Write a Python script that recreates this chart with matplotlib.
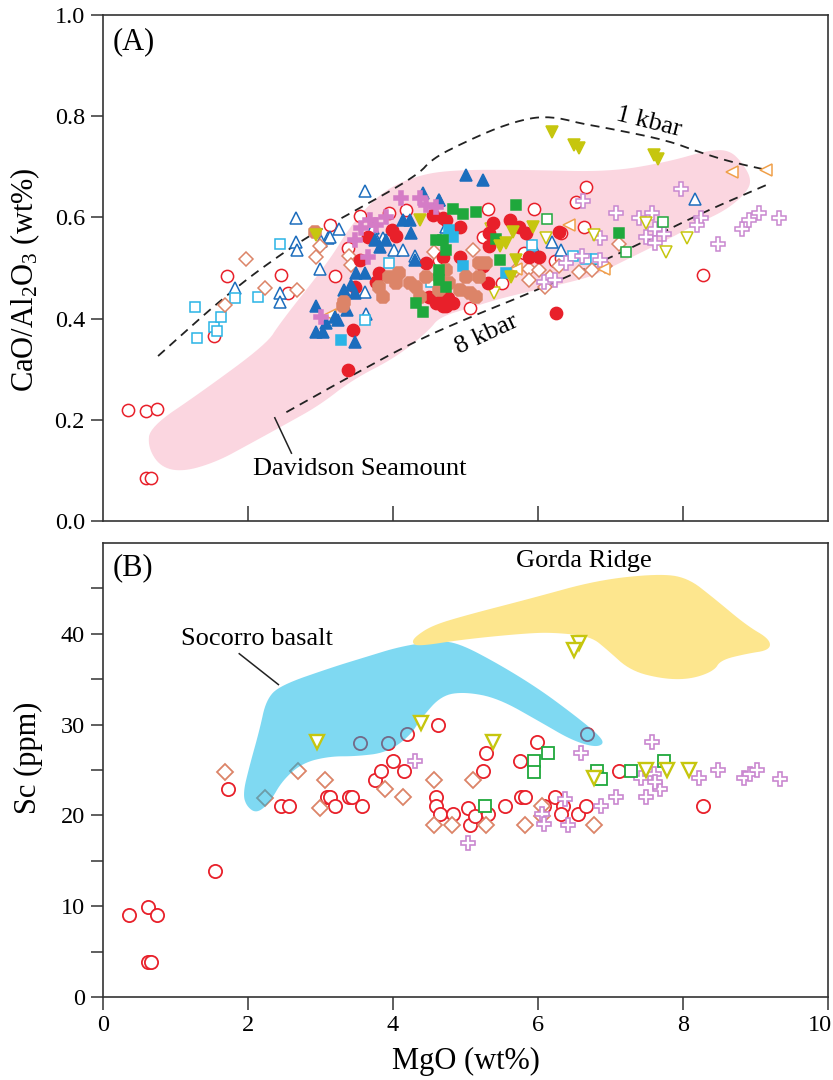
import matplotlib
matplotlib.use('Agg')
import matplotlib.pyplot as plt
import matplotlib.transforms as mtransforms
import numpy as np

plt.rcParams['font.family'] = ['Liberation Serif', 'DejaVu Serif']
plt.rcParams['mathtext.fontset'] = 'custom'
plt.rcParams['mathtext.rm'] = 'Liberation Serif'
plt.rcParams['mathtext.it'] = 'Liberation Serif:italic'

# ---------------- panel A data: MgO vs CaO/Al2O3 ----------------
a_red_open_x = [0.35, 0.60, 0.74, 0.60, 0.66, 1.53, 1.71, 2.46, 2.55, 3.13, 3.20, 3.38, 3.54, 3.95, 4.18,
                4.64, 5.31, 5.95, 5.24, 5.81, 6.32, 6.23, 6.66, 6.52, 6.64, 5.06, 5.51, 6.32, 8.27]
a_red_open_y = [0.220, 0.217, 0.222, 0.084, 0.084, 0.366, 0.485, 0.486, 0.450, 0.584, 0.485, 0.540, 0.603,
                0.608, 0.614, 0.516, 0.616, 0.616, 0.561, 0.529, 0.569, 0.513, 0.661, 0.631, 0.581, 0.420,
                0.470, 0.519, 0.486]

a_red_fill_x = [3.38, 3.45, 3.54, 3.47, 3.81, 3.99, 4.04, 3.65, 3.77, 4.46, 4.55, 4.69, 4.50, 4.59, 4.69,
                4.76, 4.73, 4.92, 5.38, 5.61, 5.74, 5.83, 5.33, 5.33, 4.69, 4.83, 4.73, 5.24, 5.31, 5.88,
                6.02, 6.29, 6.25, 4.69, 4.92]
a_red_fill_y = [0.298, 0.377, 0.516, 0.463, 0.490, 0.575, 0.564, 0.562, 0.473, 0.509, 0.605, 0.598, 0.443,
                0.430, 0.424, 0.440, 0.595, 0.582, 0.589, 0.595, 0.582, 0.569, 0.569, 0.543, 0.443, 0.430,
                0.424, 0.503, 0.470, 0.522, 0.522, 0.572, 0.412, 0.522, 0.522]

a_blue_fill_x = [2.94, 3.03, 3.08, 2.94, 3.20, 3.24, 3.36, 3.33, 3.42, 3.47, 3.49, 3.61, 3.47, 3.75, 3.82,
                 3.91, 4.14, 4.23, 4.41, 4.64, 4.25, 4.30, 5.01, 5.24, 4.64]
a_blue_fill_y = [0.374, 0.374, 0.391, 0.424, 0.404, 0.397, 0.417, 0.457, 0.466, 0.450, 0.490, 0.490, 0.354,
                 0.556, 0.542, 0.556, 0.595, 0.595, 0.648, 0.635, 0.569, 0.516, 0.684, 0.674, 0.634]

a_blue_open_x = [1.82, 2.44, 2.44, 2.66, 2.66, 2.67, 3.61, 2.99, 3.26, 3.10, 3.01, 3.72, 3.86, 3.13, 3.61,
                 3.63, 4.02, 4.14, 4.30, 3.75, 4.73, 6.20, 5.93, 6.32, 8.17]
a_blue_open_y = [0.460, 0.450, 0.433, 0.598, 0.552, 0.536, 0.652, 0.499, 0.577, 0.560, 0.553, 0.579, 0.560,
                 0.562, 0.453, 0.410, 0.536, 0.536, 0.523, 0.562, 0.582, 0.552, 0.543, 0.536, 0.636]

a_cyan_open_x = [1.27, 1.30, 1.53, 1.57, 1.63, 1.82, 2.14, 2.44, 3.95, 4.53, 5.92, 6.48, 6.66, 6.80, 3.61]
a_cyan_open_y = [0.422, 0.361, 0.384, 0.376, 0.404, 0.440, 0.442, 0.547, 0.509, 0.473, 0.546, 0.524, 0.517,
                 0.517, 0.397]
a_cyan_fill_x = [3.29, 4.83, 4.96, 5.56, 4.78]
a_cyan_fill_y = [0.358, 0.562, 0.503, 0.490, 0.575]

a_salmon_open_x = [1.97, 1.68, 2.23, 2.67, 2.99, 3.40, 2.94, 3.42, 4.57, 5.10, 5.70, 5.88, 6.02, 6.16, 6.29,
                   6.57, 6.75, 6.93, 5.88, 7.12, 6.10]
a_salmon_open_y = [0.517, 0.427, 0.460, 0.456, 0.543, 0.523, 0.522, 0.506, 0.532, 0.536, 0.496, 0.499, 0.496,
                   0.483, 0.503, 0.493, 0.496, 0.503, 0.476, 0.547, 0.462]
a_salmon_fill_x = [2.92, 3.33, 3.31, 3.86, 3.95, 4.09, 4.23, 4.32, 4.46, 4.64, 4.37, 3.81, 4.04, 4.64, 4.73,
                   4.78, 4.92, 5.06, 5.19, 5.19, 5.28, 5.01, 5.15]
a_salmon_fill_y = [0.572, 0.433, 0.424, 0.443, 0.483, 0.490, 0.470, 0.463, 0.483, 0.483, 0.443, 0.463, 0.470,
                   0.456, 0.496, 0.470, 0.456, 0.450, 0.509, 0.483, 0.509, 0.483, 0.443]

a_pink_fill_x = [3.47, 3.56, 3.68, 3.77, 4.11, 4.46, 3.65, 3.01, 4.37, 4.60, 3.90]
a_pink_fill_y = [0.556, 0.579, 0.595, 0.585, 0.638, 0.625, 0.522, 0.404, 0.639, 0.621, 0.600]
a_lilac_open_x = [6.62, 7.97, 7.08, 7.40, 7.58, 7.49, 7.62, 7.74, 7.62, 8.25, 8.20, 8.48, 8.82, 8.91, 9.05,
                  9.33, 6.85, 6.39, 6.09, 6.23, 6.86, 6.61]
a_lilac_open_y = [0.632, 0.657, 0.608, 0.598, 0.608, 0.562, 0.578, 0.568, 0.549, 0.598, 0.585, 0.547, 0.578,
                  0.595, 0.608, 0.598, 0.559, 0.509, 0.473, 0.476, 0.515, 0.523]

a_green_fill_x = [4.59, 4.32, 4.41, 4.73, 4.64, 4.83, 4.96, 5.15, 5.70, 5.47, 5.42, 4.69, 4.64, 4.73, 7.12]
a_green_fill_y = [0.556, 0.430, 0.414, 0.463, 0.476, 0.617, 0.607, 0.611, 0.624, 0.515, 0.558, 0.556, 0.496,
                  0.536, 0.569]
a_green_open_x = [6.12, 7.72, 7.22]
a_green_open_y = [0.597, 0.590, 0.532]

a_yellow_fill_x = [6.20, 6.50, 6.57, 7.60, 7.65, 5.47, 5.56, 5.65, 5.93, 5.70, 5.63, 4.37, 2.94]
a_yellow_fill_y = [0.768, 0.744, 0.737, 0.723, 0.716, 0.543, 0.549, 0.572, 0.582, 0.516, 0.483, 0.595, 0.566]
a_yellow_open_x = [5.35, 6.11, 6.78, 5.40, 7.49, 8.06, 7.76]
a_yellow_open_y = [0.578, 0.559, 0.565, 0.450, 0.588, 0.559, 0.532]

a_orange_open_x = [8.68, 9.14, 6.91, 6.43, 5.70, 3.13]
a_orange_open_y = [0.690, 0.693, 0.499, 0.585, 0.499, 0.407]

# Davidson Seamount field outline
davidson_x = [0.65, 1.34, 2.26, 2.44, 3.13, 3.40, 3.82, 4.27, 4.78, 5.88, 6.98, 7.77, 8.36, 8.64, 8.82, 8.95,
              8.87, 8.60, 8.22, 7.77, 7.30, 6.85, 6.57, 5.56, 5.10, 4.64, 4.50, 4.05, 3.44, 2.99, 2.53, 2.02,
              1.57, 1.10, 0.79, 0.62]
davidson_y = [0.186, 0.253, 0.350, 0.391, 0.516, 0.581, 0.648, 0.680, 0.694, 0.694, 0.690, 0.709, 0.733,
              0.733, 0.708, 0.674, 0.648, 0.615, 0.589, 0.555, 0.522, 0.490, 0.476, 0.443, 0.423, 0.403,
              0.377, 0.324, 0.279, 0.229, 0.192, 0.152, 0.117, 0.097, 0.107, 0.146]

# fractional crystallisation trends
kbar1_x = [0.76, 1.79, 2.71, 3.40, 4.33, 4.55, 5.01, 5.47, 5.92, 6.25, 6.61, 6.94, 7.77, 8.22, 8.68, 9.15]
kbar1_y = [0.326, 0.458, 0.553, 0.607, 0.682, 0.717, 0.750, 0.779, 0.798, 0.798, 0.785, 0.777, 0.753,
           0.729, 0.709, 0.694]
kbar8_x = [2.53, 3.40, 4.30, 5.10, 6.00, 7.30, 8.20, 9.15]
kbar8_y = [0.215, 0.285, 0.355, 0.405, 0.457, 0.540, 0.605, 0.664]

# ---------------- panel B data: MgO vs Sc ----------------
b_red_x = [0.36, 0.62, 0.75, 0.62, 0.66, 1.55, 1.73, 2.46, 2.57, 3.09, 3.13, 3.20, 3.39, 3.43, 3.57, 3.75,
           3.84, 4.00, 4.15, 3.55, 3.93, 4.19, 4.62, 4.60, 4.60, 4.65, 4.83, 5.04, 5.06, 5.13, 5.31, 5.54,
           5.24, 5.29, 5.75, 5.99, 5.77, 5.82, 6.09, 6.23, 6.34, 6.32, 6.55, 6.66, 6.68, 7.12, 8.27]
b_red_y = [9.0, 9.9, 9.0, 3.9, 3.9, 13.9, 22.9, 21.0, 21.0, 22.0, 22.0, 21.0, 22.0, 22.0, 21.0, 23.9,
           24.9, 26.0, 24.9, 28.0, 28.0, 29.0, 30.0, 22.0, 21.0, 20.1, 20.1, 20.8, 18.9, 19.9, 20.1, 21.0,
           24.9, 26.9, 26.0, 28.1, 22.0, 22.0, 21.0, 22.0, 21.0, 20.1, 20.1, 21.0, 29.0, 24.9, 21.0]
b_salmon_x = [1.68, 2.24, 2.69, 3.06, 3.00, 3.89, 4.14, 4.56, 4.56, 4.81, 5.11, 5.29, 5.82, 6.05, 6.05, 6.78]
b_salmon_y = [24.8, 21.9, 24.9, 23.9, 20.8, 22.9, 22.0, 23.9, 18.9, 18.9, 23.9, 18.9, 18.9, 21.0, 19.9, 18.9]
b_yellow_x = [2.95, 4.39, 5.38, 6.57, 6.50, 6.78, 7.49, 7.78, 8.08]
b_yellow_y = [28.1, 30.2, 28.1, 39.0, 38.2, 24.1, 25.0, 25.0, 25.0]
b_lilac_x = [4.31, 5.04, 6.59, 7.58, 6.05, 6.09, 6.37, 6.41, 6.87, 7.08, 7.49, 7.42, 7.60, 7.69, 7.62, 8.22,
             8.49, 8.84, 8.93, 9.02, 9.34]
b_lilac_y = [26.0, 17.0, 26.9, 28.1, 20.1, 19.1, 21.8, 18.9, 21.0, 22.0, 22.0, 24.1, 24.5, 22.9, 23.7, 24.1,
             25.0, 24.1, 24.6, 25.0, 24.0]
b_green_x = [5.27, 5.95, 6.14, 5.95, 6.82, 6.87, 7.28, 7.74]
b_green_y = [21.0, 26.0, 26.9, 24.8, 24.9, 24.0, 24.9, 26.0]

socorro_x = [2.44, 3.16, 3.61, 4.10, 4.60, 4.90, 5.45, 6.00, 6.46, 6.82, 6.92, 6.78, 6.46, 6.05, 5.45, 4.99,
             4.67, 4.40, 4.23, 3.91, 3.49, 3.13, 2.76, 2.48, 2.30, 2.12, 1.98, 1.93, 2.02, 2.16, 2.25]
socorro_y = [34.3, 36.3, 37.4, 38.6, 39.2, 39.0, 36.7, 34.0, 31.3, 29.0, 27.9, 27.5, 28.3, 30.2, 32.9, 33.6,
             33.2, 30.8, 28.7, 26.9, 26.5, 26.5, 25.8, 23.9, 21.4, 20.2, 21.0, 22.4, 25.4, 29.4, 32.7]
gorda_x = [4.26, 4.31, 4.54, 4.99, 5.91, 6.82, 7.65, 8.06, 8.43, 8.88, 9.20, 9.20, 8.88, 8.52, 8.43, 8.11,
           7.74, 7.28, 6.96, 6.73, 6.27, 5.91, 4.99, 4.35]
gorda_y = [39.0, 39.7, 40.9, 42.0, 43.9, 45.9, 46.6, 46.2, 43.9, 40.9, 39.4, 38.2, 37.8, 37.1, 35.9, 35.0,
           35.0, 35.9, 38.2, 39.7, 40.1, 40.1, 39.4, 38.6]

RED = '#e8202a'
BLUE = '#1c6dbd'
CYAN = '#2ab4e6'
SALMON = '#dc8468'
PINK = '#d57cc6'
LILAC = '#c987d0'
GREEN = '#1fa83c'
YELLOW = '#c6c60e'
ORANGE = '#f0a04a'


def smooth_closed(xs, ys, n=3):
    """Chaikin corner cutting so the hand-drawn fields get round edges"""
    p = np.column_stack([xs, ys]).astype(float)
    for _ in range(n):
        nxt = np.roll(p, -1, axis=0)
        q = 0.75 * p + 0.25 * nxt
        r = 0.25 * p + 0.75 * nxt
        p = np.empty((2 * len(q), 2))
        p[0::2] = q
        p[1::2] = r
    return p[:, 0], p[:, 1]


def smooth_open(xs, ys, n=3):
    p = np.column_stack([xs, ys]).astype(float)
    for _ in range(n):
        q = 0.75 * p[:-1] + 0.25 * p[1:]
        r = 0.25 * p[:-1] + 0.75 * p[1:]
        mid = np.empty((2 * len(q), 2))
        mid[0::2] = q
        mid[1::2] = r
        p = np.vstack([p[:1], mid, p[-1:]])
    return p[:, 0], p[:, 1]


def pts(ax, x, y, marker, color, size, filled, z=4, lw=1.1):
    ax.plot(x, y, linestyle='none', marker=marker, markersize=size,
            markerfacecolor=color if filled else 'white', markeredgecolor=color,
            markeredgewidth=lw, zorder=z)


def style_axes(ax):
    for s in ax.spines.values():
        s.set_linewidth(1.2)
        s.set_color('#333333')
    ax.tick_params(labelsize=17.5, width=1.1, color='#333333', pad=4)


fig = plt.figure(figsize=(8.33, 10.8), dpi=100)

# ---------------- (A) ----------------
ax1 = fig.add_axes([0.1236, 0.5176, 0.8703, 0.4685])
ax1.set_xlim(0, 10)
ax1.set_ylim(0, 1.0)
style_axes(ax1)
ax1.set_xticks([2, 4, 6, 8])
ax1.set_xticklabels([])
ax1.tick_params(axis='x', direction='in', length=11)
ax1.set_yticks(np.arange(0, 1.01, 0.2))
ax1.set_yticklabels(['%.1f' % v for v in np.arange(0, 1.01, 0.2)])
ax1.tick_params(axis='y', direction='out', length=9)

dx, dy = smooth_closed(davidson_x, davidson_y)
ax1.fill(dx, dy, color='#fbd6e0', lw=0, zorder=1)

for kx, ky in ((kbar1_x, kbar1_y), (kbar8_x, kbar8_y)):
    sx, sy = smooth_open(kx, ky)
    ax1.plot(sx, sy, color='#222222', lw=1.3, dashes=(5, 3.5), zorder=2)

ms = 8.8
pts(ax1, a_red_open_x, a_red_open_y, 'o', RED, ms, False)
pts(ax1, a_blue_open_x, a_blue_open_y, '^', BLUE, ms, False)
pts(ax1, a_cyan_open_x, a_cyan_open_y, 's', CYAN, 7.8, False)
pts(ax1, a_salmon_open_x, a_salmon_open_y, 'D', SALMON, 7.0, False)
pts(ax1, a_lilac_open_x, a_lilac_open_y, 'P', LILAC, 10, False)
pts(ax1, a_green_open_x, a_green_open_y, 's', GREEN, 7.8, False)
pts(ax1, a_yellow_open_x, a_yellow_open_y, 'v', YELLOW, ms, False)
pts(ax1, a_orange_open_x, a_orange_open_y, '<', ORANGE, ms, False)
pts(ax1, a_red_fill_x, a_red_fill_y, 'o', RED, ms, True, z=5)
pts(ax1, a_blue_fill_x, a_blue_fill_y, '^', BLUE, ms, True, z=5)
pts(ax1, a_cyan_fill_x, a_cyan_fill_y, 's', CYAN, 7.8, True, z=5)
pts(ax1, a_salmon_fill_x, a_salmon_fill_y, '8', SALMON, 9.5, True, z=5)
pts(ax1, a_pink_fill_x, a_pink_fill_y, 'P', PINK, 10, True, z=5)
pts(ax1, a_green_fill_x, a_green_fill_y, 's', GREEN, 7.8, True, z=5)
pts(ax1, a_yellow_fill_x, a_yellow_fill_y, 'v', YELLOW, ms, True, z=5)

ax1.text(7.53, 0.788, '1 kbar', fontsize=19, rotation=-14, ha='center', va='center', zorder=6)
ax1.text(5.29, 0.368, '8 kbar', fontsize=19, rotation=25, ha='center', va='center', zorder=6)
ax1.text(3.54, 0.103, 'Davidson Seamount', fontsize=19, ha='center', va='center', zorder=6)
ax1.plot([2.37, 2.60], [0.204, 0.134], color='#222222', lw=1.1, zorder=6)
ax1.text(0.014, 0.976, '(A)', transform=ax1.transAxes, fontsize=22, ha='left', va='top')
ax1.set_ylabel('CaO/Al$_2$O$_3$ (wt%)', fontsize=22)
ax1.yaxis.set_label_coords(-0.084, 0.477)

# ---------------- (B) ----------------
ax2 = fig.add_axes([0.1236, 0.0769, 0.8703, 0.4204])
ax2.set_xlim(0, 10)
ax2.set_ylim(0, 50)
style_axes(ax2)
ax2.set_xticks(np.arange(0, 11, 2))
ax2.set_yticks(np.arange(0, 41, 10))
ax2.set_yticks(np.arange(5, 50, 10), minor=True)
ax2.tick_params(axis='both', which='both', direction='out', length=9, width=1.1, color='#333333')
# keep the "10" inside the canvas
last = ax2.get_xticklabels()[-1]
last.set_transform(last.get_transform() + mtransforms.ScaledTranslation(-6 / 72, 0, fig.dpi_scale_trans))

sx, sy = smooth_closed(socorro_x, socorro_y)
ax2.fill(sx, sy, color='#00b4e6', alpha=0.5, lw=0, zorder=3)
gx, gy = smooth_closed(gorda_x, gorda_y)
ax2.fill(gx, gy, color='#fde68e', lw=0, zorder=3.5)

pts(ax2, b_red_x, b_red_y, 'o', RED, 9.5, False, z=2, lw=1.3)
pts(ax2, b_salmon_x, b_salmon_y, 'D', SALMON, 7.8, False, z=2, lw=1.3)
pts(ax2, b_lilac_x, b_lilac_y, 'P', LILAC, 10, False, z=4, lw=1.2)
pts(ax2, b_green_x, b_green_y, 's', GREEN, 8.5, False, z=4, lw=1.3)
pts(ax2, b_yellow_x, b_yellow_y, 'v', YELLOW, 9.5, False, z=4, lw=1.7)

ax2.text(6.64, 48.0, 'Gorda Ridge', fontsize=19, ha='center', va='center')
ax2.text(2.13, 39.4, 'Socorro basalt', fontsize=19, ha='center', va='center')
ax2.plot([1.88, 2.42], [37.8, 34.4], color='#222222', lw=1.1, zorder=5)
ax2.text(0.014, 0.978, '(B)', transform=ax2.transAxes, fontsize=22, ha='left', va='top')
ax2.set_ylabel('Sc (ppm)', fontsize=22)
ax2.yaxis.set_label_coords(-0.083, 0.526)
ax2.set_xlabel('MgO (wt%)', fontsize=22)
ax2.xaxis.set_label_coords(0.5, -0.11)

fig.savefig('out.png', dpi=100)
